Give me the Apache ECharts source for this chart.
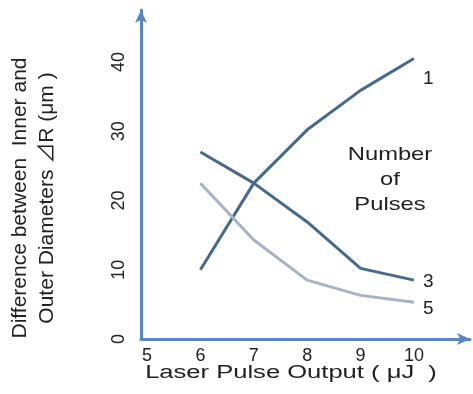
<!DOCTYPE html>
<html><head><meta charset="utf-8">
<script src="https://cdn.jsdelivr.net/npm/echarts@6/dist/echarts.min.js"></script>
<style>html,body{margin:0;padding:0;background:#fff}#c{width:473px;height:394px}</style>
</head><body><div id="c"></div>
<script>
const xValues = [6, 7, 8, 9, 10];
const pulses1 = [10.0, 22.5, 30.2, 35.9, 40.5];
const pulses3 = [27.0, 22.5, 16.9, 10.2, 8.5];
const pulses5 = [22.5, 14.3, 8.5, 6.3, 5.3];
const xTicks = [5, 6, 7, 8, 9, 10];
const yTicks = [0, 10, 20, 30, 40];
const seriesNames = ['1', '3', '5'];
const xTitle = 'Laser Pulse Output ( μJ  )';
const yTitle = 'Difference between  Inner and\nOuter Diameters ⊿R (μm )';
const noteText = 'Number\nof\nPulses';

const FONT = '"Liberation Sans", Arial, "Noto Sans CJK JP", sans-serif';
const axisColor = '#5a86c6';
const dark = '#46698c';
const light = '#a5b3c4';

function pts(ys){ return xValues.map((x,i)=>[x, ys[i]]); }

const chart = echarts.init(document.getElementById('c'));
chart.setOption({
  animation: false,
  backgroundColor: '#fff',
  grid: { left: 141, top: 10, right: 3, bottom: 55, containLabel: false, outerBoundsMode: 'none' },
  xAxis: {
    type: 'value', min: 4.887, max: 11.05,
    axisLine: { lineStyle: { color: axisColor, width: 3 }, symbol: ['none', 'arrow'], symbolSize: [9, 13] },
    axisTick: { show: false },
    splitLine: { show: false },
    axisLabel: { customValues: xTicks, color: '#222', fontFamily: FONT, fontSize: 18, margin: 8 }
  },
  yAxis: {
    type: 'value', min: 0, max: 47.5,
    axisLine: { lineStyle: { color: axisColor, width: 3 }, symbol: ['none', 'arrow'], symbolSize: [9, 13] },
    axisTick: { show: false },
    splitLine: { show: false },
    axisLabel: { customValues: yTicks, rotate: 90, color: '#222', fontFamily: FONT, fontSize: 18, margin: 13 }
  },
  series: [
    { name: seriesNames[0], type: 'line', data: pts(pulses1), symbol: 'none',
      lineStyle: { color: dark, width: 3 },
      endLabel: { show: true, formatter: seriesNames[0], color: '#222', fontFamily: FONT, fontSize: 19, offset: [1, 20] } },
    { name: seriesNames[1], type: 'line', data: pts(pulses3), symbol: 'none',
      lineStyle: { color: dark, width: 3 },
      endLabel: { show: true, formatter: seriesNames[1], color: '#222', fontFamily: FONT, fontSize: 19, offset: [1, 2] } },
    { name: seriesNames[2], type: 'line', data: pts(pulses5), symbol: 'none',
      lineStyle: { color: light, width: 3 },
      endLabel: { show: true, formatter: seriesNames[2], color: '#222', fontFamily: FONT, fontSize: 19, offset: [1, 6] } }
  ],
  graphic: [{
    type: 'text', x: 390, y: 180, scaleX: 1.25,
    style: { text: noteText, fill: '#222', font: '19px ' + FONT, textAlign: 'center', textVerticalAlign: 'middle', lineHeight: 25 }
  }, {
    type: 'text', x: 291, y: 373, scaleX: 1.42,
    style: { text: xTitle, fill: '#222', font: '18px ' + FONT, textAlign: 'center', textVerticalAlign: 'middle' }
  }, {
    type: 'text', x: 34, y: 198, rotation: Math.PI / 2,
    style: { text: yTitle, fill: '#222', font: '21px ' + FONT, textAlign: 'center', textVerticalAlign: 'middle', lineHeight: 27 }
  }]
});
</script></body></html>
